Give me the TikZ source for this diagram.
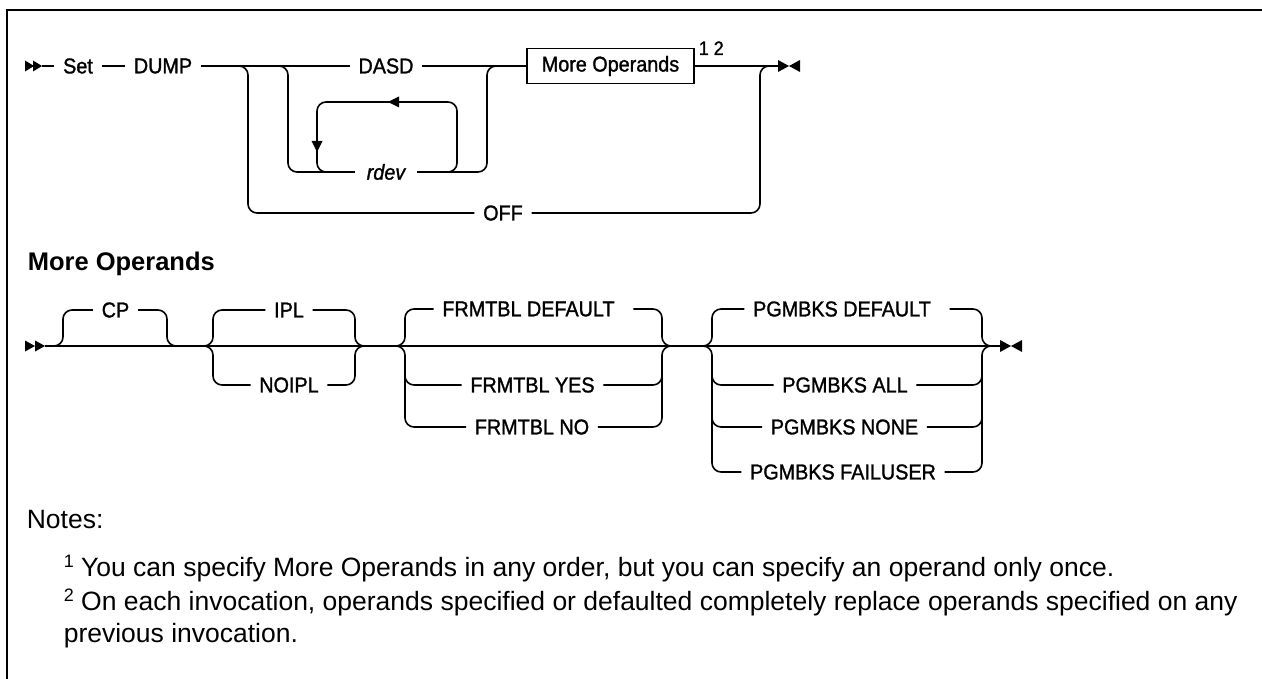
\documentclass[tikz,border=0pt]{standalone}
\usepackage{fontspec}
\setmainfont{Liberation Sans}
\newfontfamily\medfont[FakeBold=1.3,FakeStretch=0.92]{Liberation Sans}
\usetikzlibrary{calc}
\newcommand\nsup[1]{\raisebox{9pt}{\fontsize{18}{18}\selectfont #1}}
\begin{document}
\begin{tikzpicture}[x=1pt,y=-1pt,line width=1.6pt,
  lbl/.style={font=\medfont\fontsize{21.5}{24}\selectfont, inner xsep=8pt, inner ysep=0pt, anchor=center},
  rc/.style={rounded corners=9pt},
  note/.style={font=\fontsize{26.5}{31}\selectfont, anchor=base west, inner sep=0pt}]
\useasboundingbox (0,0) rectangle (1262,679);
% frame
\draw[line width=2.6pt] (1262,10) -- (7,10) -- (7,679);

% ---------- Diagram 1 ----------
\coordinate (st1) at (42,66);
\node[lbl] (set) at (78,66) {Set};
\node[lbl] (dump) at (163,66) {DUMP};
\coordinate (ja) at (248,66);
\coordinate (jb) at (288,66);
\node[lbl] (dasd) at (386,66) {DASD};
\node[lbl,font=\medfont\fontsize{21.5}{24}\selectfont\itshape,inner xsep=11pt] (rdev) at (386,172) {rdev};
\coordinate (jc) at (487,66);
\node[draw, line width=1.4pt, minimum width=167pt, minimum height=35pt, inner sep=0pt,
      font=\medfont\fontsize{21.5}{24}\selectfont] (mo) at (610.5,66) {More Operands};
\node[font=\medfont\fontsize{19.5}{19}\selectfont, anchor=base west, inner sep=0pt] (sup) at (698,55) {1 2};
\coordinate (jd) at (760,66);
\coordinate (en1) at (778,66);
\node[lbl] (off) at (503,213) {OFF};

\draw (st1) -- (set);
\draw (set) -- (dump);
\draw (dump) -- (ja) -- (jb) -- (dasd);
\draw (dasd) -- (jc) -- (mo);
\draw (mo) -- (jd) -- (en1);
% OFF branch
\draw[rc] ($(ja)+(-12,0)$) -- (ja) -- (ja |- off) -- (off.west);
\draw[rc] (off.east) -- (jd |- off) -- (jd) -- ++(12,0);
% rdev branch
\draw[rc] ($(jb)+(-12,0)$) -- (jb) -- (jb |- rdev) -- (rdev.west);
\draw[rc] (rdev.east) -- (jc |- rdev) -- (jc) -- ++(12,0);
% repeat loop
\coordinate (la) at (317,172);
\coordinate (lb) at (317,102);
\coordinate (lc) at (457,102);
\coordinate (ld) at (457,172);
\draw[rc] (rdev.west) -- (la) -- (lb) -- (lc) -- (ld) -- (rdev.east);
\fill (388,102) -- (399,96.5) -- (399,107.5) -- cycle;
\fill (317,152) -- (311.5,141) -- (322.5,141) -- cycle;
% markers
\fill (25,60.5) -- (34,66) -- (25,71.5) -- cycle;
\fill (33,60.5) -- (42,66) -- (33,71.5) -- cycle;
\fill (778,60) -- (789,66) -- (778,72) -- cycle;
\fill (800,60) -- (789,66) -- (800,72) -- cycle;

% ---------- Heading ----------
\node[font=\bfseries\fontsize{25.5}{30}\selectfont, anchor=base west, inner sep=0pt] (hd) at (27,271) {More Operands};

% ---------- Diagram 2 ----------
\coordinate (st2) at (45,346);
\coordinate (cpl) at (63,346);
\coordinate (cpr) at (167,346);
\coordinate (ipl) at (213,346);
\coordinate (ipr) at (355,346);
\coordinate (frl) at (405,346);
\coordinate (frr) at (662,346);
\coordinate (pgl) at (712,346);
\coordinate (pgr) at (982,346);
\coordinate (en2) at (1000,346);
\draw (st2) -- (cpl) -- (cpr) -- (ipl) -- (ipr) -- (frl) -- (frr) -- (pgl) -- (pgr) -- (en2);

% CP
\node[lbl] (cp) at (115.5,310) {CP};
\draw[rc] ($(cpl)+(-12,0)$) -- (cpl) -- (cpl |- cp) -- (cp.west);
\draw[rc] (cp.east) -- (cpr |- cp) -- (cpr) -- ++(12,0);

% IPL
\node[lbl] (ipla) at (289,310) {IPL};
\node[lbl] (iplb) at (289,385) {NOIPL};
\draw[rc] ($(ipl)+(-12,0)$) -- (ipl) -- (ipl |- ipla) -- (ipla.west);
\draw[rc] ($(ipl)+(-12,0)$) -- (ipl) -- (ipl |- iplb) -- (iplb.west);
\draw[rc] (ipla.east) -- (ipr |- ipla) -- (ipr) -- ++(12,0);
\draw[rc] (iplb.east) -- (ipr |- iplb) -- (ipr) -- ++(12,0);

% FRMTBL
\node[lbl] (fra) at (533.5,309) {FRMTBL DEFAULT\hspace*{10pt}};
\node[lbl] (frb) at (532.5,385) {FRMTBL YES};
\node[lbl] (frc) at (532,427) {FRMTBL NO};
\coordinate (frlb) at (405,385);
\coordinate (frrb) at (662,385);
\draw[rc] ($(frl)+(-12,0)$) -- (frl) -- (frl |- fra) -- (fra.west);
\draw[rc] ($(frl)+(-12,0)$) -- (frl) -- (frl |- frc) -- (frc.west);
\draw[rc] ($(frlb)+(0,-12)$) -- (frlb) -- (frb.west);
\draw[rc] (fra.east) -- (frr |- fra) -- (frr) -- ++(12,0);
\draw[rc] (frc.east) -- (frr |- frc) -- (frr) -- ++(12,0);
\draw[rc] (frb.east) -- (frrb) -- ++(0,-12);

% PGMBKS
\node[lbl] (pga) at (847,309) {PGMBKS DEFAULT\hspace*{10pt}};
\node[lbl] (pgb) at (845,385) {PGMBKS ALL};
\node[lbl] (pgc) at (844.5,427) {PGMBKS NONE};
\node[lbl] (pgd) at (843,472) {PGMBKS FAILUSER};
\coordinate (pglb) at (712,385);
\coordinate (pglc) at (712,427);
\coordinate (pgrb) at (982,385);
\coordinate (pgrc) at (982,427);
\draw[rc] ($(pgl)+(-12,0)$) -- (pgl) -- (pgl |- pga) -- (pga.west);
\draw[rc] ($(pgl)+(-12,0)$) -- (pgl) -- (pgl |- pgd) -- (pgd.west);
\draw[rc] ($(pglb)+(0,-12)$) -- (pglb) -- (pgb.west);
\draw[rc] ($(pglc)+(0,-12)$) -- (pglc) -- (pgc.west);
\draw[rc] (pga.east) -- (pgr |- pga) -- (pgr) -- ++(12,0);
\draw[rc] (pgd.east) -- (pgr |- pgd) -- (pgr) -- ++(12,0);
\draw[rc] (pgb.east) -- (pgrb) -- ++(0,-12);
\draw[rc] (pgc.east) -- (pgrc) -- ++(0,-12);

% markers
\fill (25,340.5) -- (35,346) -- (25,351.5) -- cycle;
\fill (35,340.5) -- (45,346) -- (35,351.5) -- cycle;
\fill (1000,340) -- (1011,346) -- (1000,352) -- cycle;
\fill (1022,340) -- (1011,346) -- (1022,352) -- cycle;

% ---------- Notes ----------
\node[note] (nt) at (26,528) {Notes:};
\node[note] (n1) at (63,576) {\nsup{1} You can specify More Operands in any order, but you can specify an operand only once.};
\node[note] (n2) at (63,610) {\nsup{2} On each invocation, operands specified or defaulted completely replace operands specified on any};
\node[note] (n3) at (63,642) {previous invocation.};
\end{tikzpicture}
\end{document}
